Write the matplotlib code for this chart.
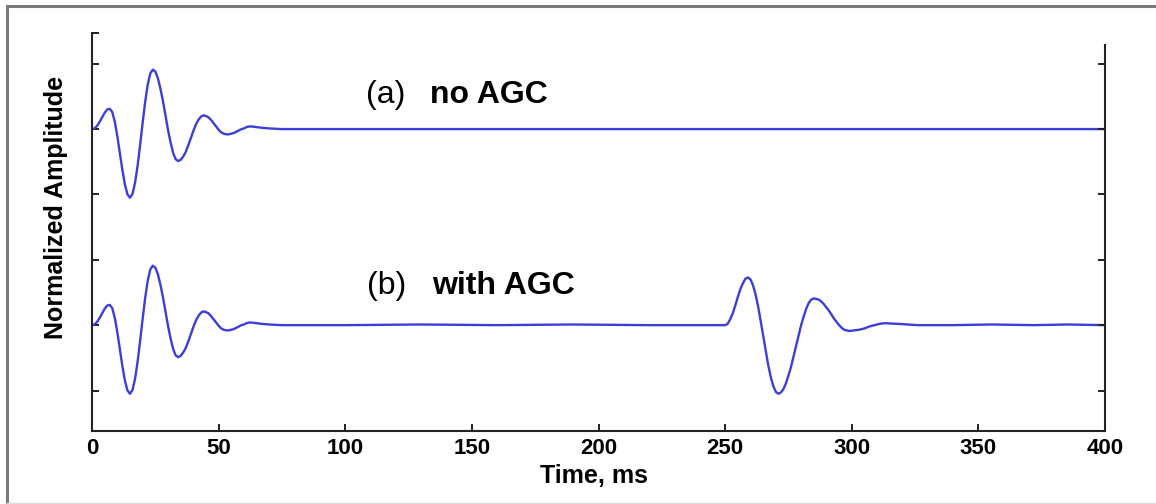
#! /usr/bin/env python3
# Seismic trace before / after AGC

import matplotlib
matplotlib.use("Agg")
import matplotlib.pyplot as plt
from matplotlib.lines import Line2D

plt.rcParams['font.family'] = ['Liberation Sans', 'DejaVu Sans']

# early wavelet (same on both traces), time in ms, amplitude relative to trace baseline
t_early = list(range(64)) + [65, 67, 70, 75]
v_early = [0.00, 0.01, 0.05, 0.11, 0.18, 0.25, 0.30, 0.31,
           0.26, 0.11, -0.11, -0.37, -0.63, -0.85, -1.00, -1.05,
           -0.99, -0.82, -0.56, -0.24, 0.10, 0.42, 0.68, 0.85, 0.91,
           0.88, 0.78, 0.62, 0.43, 0.21, -0.01, -0.20, -0.36, -0.46, -0.49,
           -0.47, -0.42, -0.35, -0.25, -0.14, -0.03, 0.07, 0.14, 0.19, 0.21,
           0.20, 0.18, 0.14, 0.09, 0.04, -0.01, -0.05, -0.07, -0.08,
           -0.08, -0.07, -0.06, -0.04, -0.02, 0.00, 0.01, 0.03, 0.04, 0.04,
           0.03, 0.02, 0.01, 0.00]

# rest of trace (a): flat
t_a_tail = [100, 150, 200, 250, 300, 350, 400]
v_a_tail = [0, 0, 0, 0, 0, 0, 0]

# rest of trace (b): flat, then the late reflection brought up by AGC
t_b_tail = [100, 130, 160, 190, 220, 249] + list(range(250, 300)) + \
           [301, 303, 305, 307, 309, 311, 313, 318, 322, 326, 340, 355, 372, 385, 400]
v_b_tail = [0.00, 0.01, 0.00, 0.01, 0.00, 0.00,
            0.00, 0.02, 0.09, 0.18, 0.30, 0.43, 0.55, 0.64, 0.71, 0.73,
            0.70, 0.61, 0.47, 0.29, 0.07, -0.16, -0.39, -0.61, -0.79, -0.93, -1.02, -1.05,
            -1.03, -0.98, -0.89, -0.77, -0.64, -0.48, -0.32, -0.16, 0.00, 0.13, 0.25, 0.34, 0.39, 0.41,
            0.40, 0.39, 0.36, 0.32, 0.27, 0.22, 0.16, 0.10, 0.05, 0.00, -0.04, -0.07, -0.08, -0.09,
            -0.08, -0.07, -0.05, -0.02, 0.00, 0.02, 0.03, 0.02, 0.01, 0.00,
            0.00, 0.01, 0.00, 0.01, 0.00]

trace_offset = {'a': 3.0, 'b': 0.0}
x_ticks = [0, 50, 100, 150, 200, 250, 300, 350, 400]

t_a = t_early + t_a_tail
y_a = [v + trace_offset['a'] for v in v_early + v_a_tail]
t_b = t_early + t_b_tail
y_b = [v + trace_offset['b'] for v in v_early + v_b_tail]

blue = '#3d3dda'
dark = '#222222'

fig = plt.figure(figsize=(11.56, 5.04), dpi=100)
ax = fig.add_axes([0.0796, 0.1448, 0.8763, 0.7897])

ax.plot(t_a, y_a, color=blue, lw=1.7)
ax.plot(t_b, y_b, color=blue, lw=1.7)

ax.set_xlim(0, 400)
ax.set_ylim(-1.62, 4.47)
ax.set_xticks(x_ticks)
ax.set_xticklabels([str(v) for v in x_ticks], fontsize=16, fontweight='bold')
ax.set_yticks([-1, 0, 1, 2, 3, 4, 4.47])
ax.set_yticklabels([])
ax.tick_params(axis='both', direction='in', length=5, width=1.4, color=dark, pad=5)
ax.spines['top'].set_visible(False)
ax.spines['right'].set_visible(False)
for s in ['left', 'bottom']:
    ax.spines[s].set_color(dark)
    ax.spines[s].set_linewidth(1.5)

ax2 = ax.twinx()
ax2.set_ylim(ax.get_ylim())
ax2.set_yticks([-1, 0, 1, 2, 3, 4])
ax2.set_yticklabels([])
ax2.tick_params(axis='y', direction='in', length=5, width=1.4, color=dark)
for s in ['top', 'left', 'bottom']:
    ax2.spines[s].set_visible(False)
ax2.spines['right'].set_color(dark)
ax2.spines['right'].set_linewidth(1.5)
ax2.spines['right'].set_bounds(-1.62, 4.29)

# trace labels
ax.text(116.0, 3.40, '(a)', fontsize=23, ha='center', va='baseline')
ax.text(133.5, 3.40, 'no AGC', fontsize=23, fontweight='bold', ha='left', va='baseline')
ax.text(116.5, 0.47, '(b)', fontsize=23, ha='center', va='baseline')
ax.text(134.3, 0.47, 'with AGC', fontsize=23, fontweight='bold', ha='left', va='baseline')

fig.text(594 / 1156, 1 - 476 / 504, 'Time, ms', fontsize=18, fontweight='bold',
         ha='center', va='center')
fig.text(56 / 1156, 1 - 207 / 504, 'Normalized Amplitude', fontsize=18, fontweight='bold',
         ha='center', va='center', rotation=90)

# outer frame of the figure
fig.add_artist(Line2D([7 / 1156, 1.0], [1 - 6 / 504, 1 - 6 / 504], color='#7a7a7a', lw=2.2))
fig.add_artist(Line2D([7 / 1156, 7 / 1156], [1 - 6 / 504, 1 - 503 / 504], color='#7a7a7a', lw=2.2))
fig.add_artist(Line2D([7 / 1156, 1.0], [1 - 503 / 504, 1 - 503 / 504], color='#dddddd', lw=1))

plt.savefig('out.png', dpi=100)
